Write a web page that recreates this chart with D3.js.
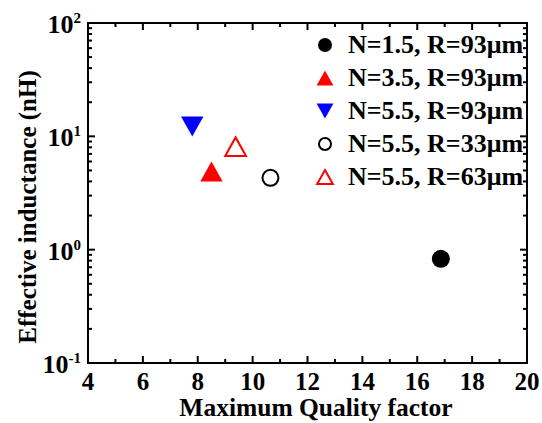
<!DOCTYPE html>
<html>
<head>
<meta charset="utf-8">
<script src="https://cdn.jsdelivr.net/npm/d3@7"></script>
<style>
  body { margin: 0; background: #fff; }
</style>
</head>
<body>
<svg id="chart" width="542" height="423"></svg>
<script>
// ---- data ----
const seriesLabels = ["N=1.5, R=93\u03bcm", "N=3.5, R=93\u03bcm", "N=5.5, R=93\u03bcm", "N=5.5, R=33\u03bcm", "N=5.5, R=63\u03bcm"];
const qualityFactor = [16.86, 8.5, 7.8, 10.65, 9.38];
const inductance = [0.83, 4.9, 12.2, 4.3, 8.1];
const markerShapes = ["circle", "triangleUp", "triangleDown", "circle", "triangleUp"];
const markerColors = ["#000000", "#ff0000", "#0000ff", "#000000", "#ff0000"];
const markerFilled = [true, true, true, false, false];
const xTicks = [4, 6, 8, 10, 12, 14, 16, 18, 20];
const yTickExponents = [-1, 0, 1, 2];

const FONT = "Liberation Serif";
const svg = d3.select("#chart");
const m = { left: 88, top: 23, right: 527, bottom: 363 };
const x = d3.scaleLinear().domain([4, 20]).range([m.left, m.right]);
const y = d3.scaleLog().domain([0.1, 100]).range([m.bottom, m.top]);

const g = svg.append("g");

// minor ticks
const xMinor = d3.range(5, 20, 2);
const yMinor = [];
for (let e = -1; e < 2; e++) for (let k = 2; k <= 9; k++) yMinor.push(k * Math.pow(10, e));
const yMajor = yTickExponents.map(e => Math.pow(10, e));

function tickLines(vals, len, axis) {
  vals.forEach(v => {
    if (axis === "x") {
      const px = x(v);
      g.append("line").attr("x1", px).attr("x2", px).attr("y1", m.bottom).attr("y2", m.bottom - len);
      g.append("line").attr("x1", px).attr("x2", px).attr("y1", m.top).attr("y2", m.top + len);
    } else {
      const py = y(v);
      g.append("line").attr("y1", py).attr("y2", py).attr("x1", m.left).attr("x2", m.left + len);
      g.append("line").attr("y1", py).attr("y2", py).attr("x1", m.right).attr("x2", m.right - len);
    }
  });
}
tickLines(xTicks, 7, "x");
tickLines(xMinor, 4, "x");
tickLines(yMajor, 7, "y");
tickLines(yMinor, 4, "y");
g.selectAll("line").attr("stroke", "#000").attr("stroke-width", 2);

// frame
g.append("rect").attr("x", m.left).attr("y", m.top)
  .attr("width", m.right - m.left).attr("height", m.bottom - m.top)
  .attr("fill", "none").attr("stroke", "#000").attr("stroke-width", 2);

function txt(sel) {
  return sel.append("text").attr("font-family", FONT).attr("font-weight", "bold").attr("fill", "#000");
}

// x tick labels
xTicks.forEach(d => {
  txt(svg).attr("x", x(d)).attr("y", 390)
    .attr("text-anchor", "middle").attr("font-size", 25).text(d);
});

// y tick labels (10 with superscript exponent)
yTickExponents.forEach(e => {
  const t = txt(svg).attr("x", 81).attr("y", y(Math.pow(10, e)) + 10)
    .attr("text-anchor", "end").attr("font-size", 26);
  t.append("tspan").text("10");
  t.append("tspan").attr("dy", -10).attr("font-size", 15).text(e);
});

// axis titles
txt(svg).attr("x", 316).attr("y", 416)
  .attr("text-anchor", "middle").attr("font-size", 25.5).text("Maximum Quality factor");
txt(svg).attr("transform", `translate(36,${207}) rotate(-90)`)
  .attr("text-anchor", "middle").attr("font-size", 25).text("Effective inductance (nH)");

// markers
function drawMarker(sel, shape, cx, cy, size, color, filled) {
  const sw = 2;
  if (shape === "circle") {
    const r = filled ? size / 2 : size / 2 - sw / 2;
    sel.append("circle").attr("cx", cx).attr("cy", cy).attr("r", r)
      .attr("fill", filled ? color : "none").attr("stroke", filled ? "none" : color).attr("stroke-width", sw);
  } else {
    const w = size * 1.12, h = size;
    let pts;
    if (shape === "triangleUp") pts = [[cx - w / 2, cy + h / 2], [cx + w / 2, cy + h / 2], [cx, cy - h / 2]];
    else pts = [[cx - w / 2, cy - h / 2], [cx + w / 2, cy - h / 2], [cx, cy + h / 2]];
    if (!filled) {
      const s = 0.93;
      pts = pts.map(p => [cx + (p[0] - cx) * s, cy + (p[1] - cy) * s]);
    }
    sel.append("polygon").attr("points", pts.map(p => p.join(",")).join(" "))
      .attr("fill", filled ? color : "none").attr("stroke", filled ? "none" : color)
      .attr("stroke-width", sw).attr("stroke-linejoin", "miter");
  }
}

qualityFactor.forEach((q, i) => {
  const sz = markerShapes[i] === "circle" ? 18 : 20;
  drawMarker(svg, markerShapes[i], x(q), y(inductance[i]), sz, markerColors[i], markerFilled[i]);
});

// legend
seriesLabels.forEach((lab, i) => {
  const ly = 45 + i * 33;
  const sz = markerShapes[i] === "circle" ? 14 : 15;
  drawMarker(svg, markerShapes[i], 325, ly, sz, markerColors[i], markerFilled[i]);
  txt(svg).attr("x", 348).attr("y", ly + 8).attr("font-size", 26).text(lab);
});
</script>
</body>
</html>
